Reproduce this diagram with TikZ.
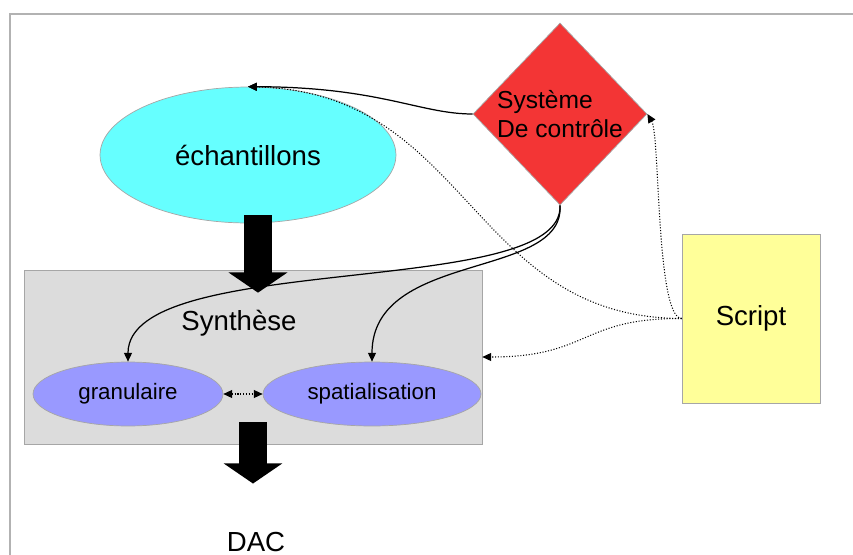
\documentclass[tikz,border=0pt]{standalone}
\usepackage{fontspec}
\setmainfont{Liberation Sans}
\usetikzlibrary{arrows.meta,shapes.geometric,positioning}

\definecolor{echcol}{HTML}{66FFFF}
\definecolor{ctrlcol}{HTML}{F33535}
\definecolor{grancol}{HTML}{9999FF}
\definecolor{syncol}{HTML}{DCDCDC}
\definecolor{scrcol}{HTML}{FFFF99}

\begin{document}
\begin{tikzpicture}[x=0.02cm, y=-0.02cm,
    blob/.style={draw=black!35, ellipse, inner sep=0pt},
    boxe/.style={draw=black!35, rectangle, inner sep=0pt},
    bigtxt/.style={font=\fontsize{15.7}{19}\selectfont},
    smalltxt/.style={font=\fontsize{12.7}{15}\selectfont},
    ctrl/.style={-{Triangle[length=5pt,width=4.5pt]}, line width=0.7pt},
    scr/.style={-{Triangle[length=5pt,width=4.5pt]}, densely dotted, line width=0.6pt},
    big/.style={line width=15.9pt, -{Triangle[length=11.5pt,width=33pt]}}
]
\useasboundingbox (0,0) rectangle (853,555);
\draw[black!30, line width=0.6pt] (10,570) -- (10,14) -- (870,14);

\node[boxe, fill=syncol, minimum width=9.16cm, minimum height=3.48cm] (syn) at (253,357) {};
\node[bigtxt] (syntitle) at (239,323) {Synthèse};
\node[blob, fill=echcol, minimum width=5.92cm, minimum height=2.72cm, bigtxt] (ech) at (248,155) {échantillons};
\node[diamond, draw=black!35, fill=ctrlcol, inner sep=0pt, minimum width=3.48cm, minimum height=3.64cm, align=left, font=\fontsize{14}{17}\selectfont] (ctrl) at (560,114) {Système\\De contrôle};
\node[blob, fill=grancol, minimum width=3.8cm, minimum height=1.28cm, smalltxt] (gran) at (128,394) {granulaire};
\node[blob, fill=grancol, minimum width=4.36cm, minimum height=1.28cm, smalltxt] (spat) at (372,394) {spatialisation};
\node[boxe, fill=scrcol, minimum width=2.76cm, minimum height=3.38cm, bigtxt] (script) at (751,318.5) {Script};
\node[bigtxt] (dac) at (256,541.5) {DAC};

\draw[big] ([shift={(10,-8)}]ech.south) -- ([shift={(5,23)}]syn.north);
\draw[big] ([shift={(0,-22)}]syn.south) -- ([shift={(-3,-42)}]dac.north);

\draw[ctrl] (ctrl.west) .. controls (420,114) and (380,87) .. (ech.north);
\draw[ctrl] (ctrl.south) .. controls (565,300) and (128,250) .. (gran.north);
\draw[ctrl] (ctrl.south) .. controls (565,280) and (372,250) .. (spat.north);

\draw[scr] (script.west) .. controls (470,318) and (470,92) .. (ech.north);
\draw[scr] (script.west) .. controls (656,318) and (660,135) .. (ctrl.east);
\draw[scr] (script.west) .. controls (580,318) and (590,357) .. (syn.east);
\draw[scr, {Triangle[length=5pt,width=4.5pt]}-{Triangle[length=5pt,width=4.5pt]}] (gran) -- (spat);
\end{tikzpicture}
\end{document}
